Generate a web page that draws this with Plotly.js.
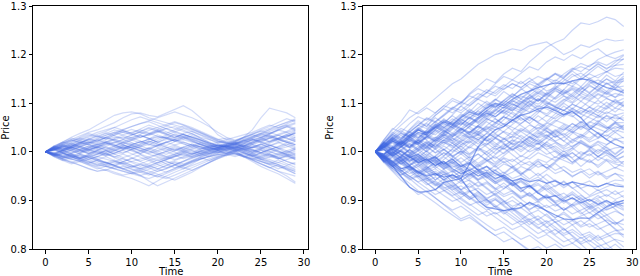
<!DOCTYPE html>
<html><head><meta charset="utf-8">
<script src="https://cdn.plot.ly/plotly-3.0.1.min.js"></script>
<style>html,body{margin:0;padding:0;background:#fff}#chart{width:640px;height:276px}</style>
</head><body><div id="chart"></div>
<script>
// Time steps
const time = [0,1,2,3,4,5,6,7,8,9,10,11,12,13,14,15,16,17,18,19,20,21,22,23,24,25,26,27,28,29];
const yTicks = [0.8,0.9,1.0,1.1,1.2,1.3];
const xTicks = [0,5,10,15,20,25,30];
const xTitle = 'Time';
const yTitle = 'Price';

// Left panel: price paths, deviation from 1.0 in thousandths
const leftPaths = [
[0,10,18,25,32,40,45,52,60,70,78,80,75,72,80,88,95,85,70,55,35,25,20,18,25,30,35,28,22,15],
[0,12,20,30,38,45,55,65,75,80,82,78,70,65,60,55,50,45,38,30,22,18,15,12,8,10,5,0,-5,-8],
[0,-8,-15,-20,-28,-35,-40,-38,-45,-50,-55,-62,-70,-60,-50,-42,-35,-25,-15,-10,-5,0,-5,-10,-15,-20,-25,-30,-35,-40],
[0,5,-3,-10,-15,-22,-28,-30,-35,-40,-45,-42,-48,-40,-35,-28,-20,-10,-5,0,5,8,2,-10,-20,-30,-38,-45,-55,-65],
[0,6,12,8,15,20,18,25,30,28,35,40,38,32,28,22,25,20,15,12,10,15,20,30,45,70,90,85,80,70],
[0,-5,-12,-8,-3,5,10,6,12,18,15,20,25,30,28,35,30,25,18,12,15,10,14,20,25,22,28,35,40,45],
[0,10,5,12,18,15,8,3,-5,-2,5,10,15,12,20,25,30,22,15,10,5,8,12,18,15,10,18,25,20,15],
[0,-10,-18,-25,-20,-28,-35,-30,-25,-20,-28,-35,-30,-22,-15,-10,-5,-12,-8,-3,2,5,0,-8,-15,-10,-5,-12,-20,-25],
[0,8,14,20,28,35,30,38,45,40,35,42,50,45,38,30,35,28,20,15,20,25,30,35,40,48,55,50,58,65],
[0,-6,0,8,12,5,-2,-8,-3,5,10,2,-5,-10,-15,-8,-2,5,0,-5,0,4,8,12,5,-2,-8,-15,-10,-5],
[0,12,20,15,25,32,40,45,50,44,38,30,35,42,48,52,45,38,30,25,20,18,22,28,35,30,38,45,40,32],
[0,-4,-10,-16,-12,-5,2,-4,-10,-15,-20,-25,-30,-35,-28,-20,-25,-18,-10,-5,0,-3,2,8,2,-5,-12,-8,-2,5],
[0,5,10,18,12,5,10,15,20,25,30,35,28,20,25,30,38,42,35,28,22,18,15,20,28,35,30,25,32,38],
[0,-8,-5,3,-5,-12,-18,-22,-28,-35,-30,-38,-45,-52,-45,-38,-30,-22,-15,-8,-2,2,6,0,-8,-15,-22,-30,-38,-45],
[0,10,18,25,20,15,22,30,38,45,52,58,62,55,48,40,35,30,25,18,12,10,15,22,30,38,45,50,55,48],
[0,-3,4,10,5,0,-6,-2,5,12,18,12,6,12,18,25,20,14,10,5,8,12,8,4,10,16,22,28,34,25],
[0,6,-2,-8,-14,-20,-25,-30,-35,-40,-45,-50,-55,-48,-42,-35,-28,-20,-15,-10,-5,-8,-3,-10,-18,-25,-32,-40,-45,-50],
[0,8,16,22,28,22,15,20,28,35,40,45,38,45,52,60,55,48,40,32,25,28,22,30,38,45,52,60,68,62],
[0,-5,2,8,3,-3,-10,-5,2,8,2,-5,-12,-18,-12,-5,0,6,12,8,3,6,10,5,-2,-8,-2,5,10,15],
[0,7,14,10,4,10,16,22,15,8,14,20,26,32,28,22,16,12,6,10,14,18,12,6,0,6,12,18,24,30],
[0,-7,-14,-10,-18,-25,-30,-25,-20,-28,-35,-40,-45,-50,-55,-48,-40,-32,-25,-18,-10,-5,0,5,10,5,0,-5,-10,-15],
[0,9,15,22,30,38,32,26,34,40,46,40,34,40,48,42,36,30,24,18,12,16,20,26,32,38,32,26,20,14],
[0,-4,-9,-14,-20,-26,-32,-38,-30,-22,-28,-34,-40,-46,-52,-58,-50,-42,-32,-22,-12,-6,-2,-8,-14,-20,-26,-22,-16,-10],
[0,5,12,18,24,30,36,42,50,58,66,72,66,60,54,48,42,36,28,20,14,10,6,12,18,24,30,36,42,50],
[0,3,-2,4,10,16,10,4,-2,4,10,16,22,16,10,4,10,16,10,4,8,12,16,22,28,34,40,34,28,22],
[0,-6,-2,-8,-14,-10,-16,-22,-28,-34,-40,-34,-28,-22,-16,-10,-4,2,-4,-10,-6,-2,4,10,4,-2,-8,-14,-8,-2],
[0,10,20,28,24,18,26,34,40,34,28,36,44,50,56,62,56,50,42,34,26,20,16,10,16,22,28,34,28,22],
[0,-8,-16,-22,-28,-34,-40,-36,-42,-48,-44,-38,-32,-26,-20,-26,-32,-38,-30,-22,-14,-8,-2,-8,-16,-24,-32,-40,-50,-62],
[0,6,10,14,8,2,8,14,20,14,8,2,8,14,20,26,32,26,20,14,8,12,16,10,4,-2,4,10,16,8],
[0,-2,-8,-4,2,8,14,20,26,20,14,8,2,-4,-10,-16,-10,-4,2,8,14,10,6,2,-4,-10,-16,-22,-28,-22],
[0,8,4,10,16,22,28,34,40,46,52,58,64,70,76,82,76,70,62,52,40,30,24,30,36,42,48,54,60,66],
[0,-10,-18,-12,-6,-12,-18,-24,-30,-36,-42,-48,-60,-70,-62,-54,-46,-38,-30,-22,-14,-6,2,-4,-10,-16,-10,-4,2,8],
[0,4,8,2,-4,-10,-4,2,8,14,8,2,-4,2,8,14,20,14,8,2,6,10,14,8,2,8,14,8,2,-4],
[0,12,6,14,22,18,24,30,24,18,24,30,36,42,36,30,36,30,24,18,12,16,20,14,8,14,20,26,32,38],
[0,-5,-10,-15,-20,-15,-10,-15,-20,-25,-20,-15,-10,-5,0,5,0,-5,0,5,10,14,18,24,30,36,42,48,54,60],
[0,6,2,-4,-10,-16,-22,-28,-34,-30,-36,-42,-36,-30,-24,-18,-12,-6,0,6,12,8,4,-2,-8,-14,-20,-26,-32,-38],
[0,7,3,12,20,14,9,17,25,31,24,18,27,35,29,22,30,38,28,19,12,15,9,17,24,30,21,28,36,29],
[0,-9,-4,-13,-7,-16,-10,-3,-12,-20,-14,-6,-15,-23,-17,-9,-2,-10,-4,3,-2,6,11,4,-5,3,-6,-14,-7,-16],
[0,4,13,8,17,26,20,29,23,15,24,33,27,19,28,37,31,24,15,9,5,13,8,16,25,19,28,21,30,41],
[0,-3,-11,-5,-14,-8,1,-6,3,11,5,-3,6,-2,-10,-4,5,-3,6,12,7,3,9,2,-6,-13,-5,-12,-20,-27],
[0,11,6,15,9,2,10,18,12,21,29,22,14,23,31,25,17,9,16,8,4,10,16,24,17,26,34,27,19,11],
[0,-6,-14,-9,-17,-24,-18,-27,-21,-13,-22,-30,-24,-16,-25,-33,-27,-19,-11,-4,3,-3,5,-2,-9,-2,6,-1,-8,-15],
[0,5,-2,6,-1,8,15,9,2,10,4,-4,5,13,20,14,6,13,5,11,17,12,6,13,21,29,38,46,52,44],
[0,-4,3,-5,-12,-6,-14,-22,-28,-21,-13,-20,-27,-35,-42,-34,-26,-19,-12,-18,-11,-5,-10,-4,-12,-19,-27,-35,-29,-36],
[0,8,16,11,19,27,22,30,37,44,38,47,55,49,41,34,26,33,24,16,10,14,19,12,20,29,36,44,51,58],
[0,-7,-2,-10,-4,3,-4,4,11,5,12,6,-2,7,1,-6,2,9,3,-3,2,-4,1,7,-1,6,13,7,-2,6],
[0,3,9,2,10,4,11,19,13,6,14,22,16,9,3,11,4,12,19,13,8,12,6,1,9,15,8,2,-6,-13],
[0,-8,-15,-22,-16,-23,-17,-10,-18,-25,-32,-26,-33,-40,-34,-27,-35,-28,-21,-14,-8,-3,-7,-1,-9,-16,-24,-17,-25,-32],
[0,9,4,12,19,26,33,27,35,42,36,29,37,44,38,46,53,47,39,31,24,19,23,29,36,43,37,45,52,46],
[0,-5,2,9,3,-4,3,10,4,-3,5,12,19,13,6,-1,-8,-2,-9,-3,2,7,2,8,14,21,14,7,14,22],
[0,6,0,-7,-14,-8,-16,-23,-17,-24,-31,-25,-18,-26,-33,-27,-20,-13,-7,-1,5,1,-4,-11,-4,-12,-19,-26,-33,-41],
[0,10,17,24,18,25,32,39,33,26,34,41,48,42,35,28,36,29,22,15,9,13,17,11,18,25,32,25,33,39],
[0,-2,-9,-3,4,-3,4,-4,-11,-5,-12,-19,-13,-6,-13,-7,-14,-8,-2,3,8,4,9,15,9,16,9,2,-5,2],
[0,5,11,5,12,19,13,20,14,7,14,8,1,-6,1,8,2,-5,2,8,13,9,4,-2,-9,-3,4,11,19,27],
[0,-9,-3,-11,-18,-12,-5,2,-5,-12,-6,1,8,2,-5,2,9,16,10,4,8,13,18,12,19,27,20,28,35,43],
[0,4,10,17,11,18,25,18,11,19,27,34,27,20,13,21,28,22,15,8,3,7,11,5,-2,4,-3,-11,-4,-12],
[0,-5,-12,-6,-13,-20,-27,-21,-28,-35,-42,-49,-43,-36,-29,-22,-29,-21,-14,-7,-2,3,-2,-9,-17,-25,-33,-27,-36,-45],
[0,8,2,9,16,10,3,11,18,25,19,12,20,27,34,41,48,42,34,26,18,22,17,24,31,38,46,54,61,68],
[0,-3,4,-2,5,12,6,-1,7,14,8,15,22,16,9,2,9,3,-4,2,7,12,16,21,27,20,13,20,12,5],
[0,7,13,6,-1,6,-2,-9,-3,3,-4,-11,-18,-12,-19,-26,-19,-12,-6,0,4,8,13,7,14,8,1,-6,1,-7]
];

// Right panel: price paths, deviation from 1.0 in thousandths
const rightPaths = [
[0,15,30,22,45,60,52,75,90,105,98,120,135,150,142,160,172,165,185,200,215,225,232,250,265,262,268,277,272,258],
[0,20,38,55,70,82,95,110,125,140,150,165,180,190,200,205,212,208,218,222,226,214,200,208,220,215,225,232,228,230],
[0,25,45,62,86,78,90,80,95,110,102,118,130,122,140,155,148,162,175,168,185,195,188,200,192,205,212,198,205,210],
[0,10,25,18,35,48,40,55,65,58,72,85,78,95,108,100,115,128,140,132,148,160,152,170,182,175,190,198,192,200],
[0,-12,5,18,10,28,42,35,50,62,75,68,85,98,90,105,118,110,125,140,152,145,160,172,165,178,185,178,188,190],
[0,18,32,25,40,55,70,62,78,92,85,100,115,128,120,135,148,140,152,138,150,162,155,168,175,168,180,172,178,180],
[0,8,-5,10,22,15,30,45,38,52,66,58,72,85,98,90,105,95,110,122,115,130,142,135,150,160,152,165,172,170],
[0,15,28,40,32,48,60,75,88,80,95,108,120,112,125,138,130,145,132,120,135,148,140,155,162,150,158,165,155,160],
[0,-10,-22,-8,5,18,10,25,38,30,45,58,50,65,78,92,85,100,112,105,118,130,122,135,128,140,148,140,145,150],
[0,20,12,28,42,55,48,62,75,90,102,95,110,122,115,130,140,132,145,155,148,160,150,140,152,145,138,150,142,145],
[0,12,25,38,30,18,32,45,58,50,65,78,70,85,98,90,102,115,108,120,112,125,118,130,122,135,128,140,132,135],
[0,-15,-5,10,25,18,32,20,35,48,60,52,68,80,72,85,98,92,105,98,110,102,115,108,120,112,125,118,130,125],
[0,10,22,15,30,45,38,52,65,58,45,58,70,85,78,92,105,98,112,125,118,108,120,132,125,115,128,120,112,120],
[0,18,35,28,42,30,45,58,50,65,78,70,58,72,85,78,92,85,98,110,102,95,108,100,112,105,118,110,102,110],
[0,-8,-20,-10,5,-5,10,25,18,32,45,38,52,45,58,72,65,78,70,85,78,92,85,98,90,105,98,110,102,100],
[0,15,5,20,35,28,42,55,48,62,55,70,62,75,88,80,95,108,100,88,100,92,85,98,90,82,95,88,100,95],
[0,10,25,18,8,22,35,28,42,35,48,40,55,68,60,72,65,78,90,82,95,88,75,88,80,92,85,78,90,85],
[0,-10,0,-12,-5,8,20,12,25,18,30,42,35,48,60,52,65,58,70,62,75,68,80,72,85,78,70,82,75,80],
[0,20,35,48,40,55,68,60,75,88,80,95,108,100,92,105,98,90,82,95,88,80,72,85,78,70,62,75,68,70],
[0,8,18,10,22,15,5,18,30,22,35,28,40,52,45,58,50,42,55,48,60,52,45,58,50,62,55,48,60,60],
[0,-18,-30,-22,-35,-25,-12,-20,-8,5,-5,10,2,15,28,20,32,25,38,30,42,35,48,40,52,45,58,50,48,55],
[0,12,2,15,8,20,32,25,38,50,62,55,68,80,72,85,78,65,72,60,52,65,58,50,62,55,48,40,52,45],
[0,-5,8,20,12,25,18,5,15,28,20,32,25,38,30,42,35,48,40,28,35,22,30,42,35,28,40,32,45,40],
[0,15,28,20,32,45,38,50,42,55,48,35,42,30,38,25,32,45,38,50,42,30,38,25,32,20,28,35,25,30],
[0,-10,-22,-15,-28,-20,-8,-15,-2,-10,2,-5,8,0,12,5,18,10,22,15,28,20,12,25,18,10,22,15,25,20],
[0,10,20,12,25,18,30,22,35,28,15,22,10,18,5,12,25,18,30,22,10,18,5,12,20,8,15,2,8,10],
[0,-12,-5,-18,-10,-22,-15,-28,-20,-32,-25,-38,-30,-18,-25,-12,-20,-8,-15,-2,-10,-18,-5,-12,0,-8,5,-2,-10,0],
[0,8,-5,5,-8,2,15,8,20,12,25,18,30,22,35,28,15,22,10,18,5,12,0,8,-5,2,-10,-2,-15,-10],
[0,-15,-28,-40,-32,-45,-38,-50,-42,-55,-48,-35,-42,-30,-38,-25,-32,-20,-28,-15,-22,-10,-18,-25,-12,-20,-28,-15,-22,-20],
[0,12,25,38,30,45,38,52,45,32,40,28,35,22,30,18,5,12,0,8,-5,2,-10,-2,-15,-22,-10,-18,-25,-30],
[0,-8,5,-5,-18,-10,-22,-15,-28,-20,-32,-25,-38,-45,-38,-50,-42,-30,-38,-25,-32,-45,-38,-50,-42,-35,-48,-40,-32,-40],
[0,18,10,22,15,2,10,-2,5,-8,0,-12,-5,-18,-10,-22,-15,-28,-20,-32,-25,-38,-30,-42,-35,-48,-40,-52,-45,-50],
[0,-20,-12,-25,-38,-30,-42,-35,-48,-40,-52,-45,-58,-50,-62,-55,-68,-60,-72,-65,-78,-70,-62,-75,-68,-60,-72,-65,-58,-60],
[0,10,0,-12,-5,-18,-10,-22,-35,-28,-40,-32,-45,-38,-50,-42,-55,-48,-60,-52,-65,-58,-70,-62,-75,-68,-80,-72,-65,-70],
[0,-10,-25,-18,-30,-42,-35,-48,-40,-52,-65,-58,-70,-62,-75,-88,-80,-92,-85,-98,-90,-102,-95,-88,-100,-92,-85,-78,-88,-80],
[0,12,5,-8,-20,-12,-25,-18,-30,-42,-35,-48,-40,-52,-65,-58,-70,-62,-75,-68,-80,-92,-85,-98,-90,-102,-95,-88,-98,-90],
[0,-18,-30,-42,-55,-48,-60,-52,-65,-78,-70,-82,-75,-88,-80,-92,-85,-98,-110,-102,-115,-108,-120,-112,-105,-118,-110,-102,-108,-100],
[0,5,-8,-20,-12,-25,-38,-30,-42,-55,-48,-60,-72,-65,-78,-70,-82,-95,-88,-100,-92,-105,-98,-110,-102,-115,-108,-120,-112,-110],
[0,-12,-25,-38,-50,-62,-55,-68,-80,-72,-85,-98,-90,-102,-95,-108,-100,-112,-105,-118,-110,-122,-115,-128,-120,-112,-125,-118,-112,-120],
[0,-5,-18,-10,-22,-35,-48,-40,-52,-65,-78,-70,-82,-95,-88,-100,-112,-105,-118,-110,-122,-135,-128,-140,-132,-125,-138,-130,-122,-130],
[0,-15,-28,-20,-32,-45,-58,-70,-62,-75,-88,-80,-92,-105,-98,-110,-122,-115,-128,-120,-132,-145,-138,-150,-142,-155,-148,-140,-148,-140],
[0,-8,-20,-32,-45,-38,-50,-62,-75,-68,-80,-92,-105,-98,-110,-122,-115,-128,-140,-132,-145,-138,-150,-142,-155,-148,-160,-152,-145,-150],
[0,-20,-35,-48,-40,-55,-68,-60,-72,-85,-98,-110,-102,-115,-128,-120,-132,-145,-138,-150,-142,-155,-168,-160,-172,-165,-178,-170,-162,-160],
[0,-10,-22,-35,-28,-40,-52,-65,-78,-90,-82,-95,-108,-120,-112,-125,-138,-150,-142,-155,-168,-160,-172,-165,-178,-170,-182,-175,-168,-170],
[0,-18,-30,-45,-58,-50,-65,-78,-90,-102,-95,-108,-120,-132,-125,-138,-150,-142,-155,-168,-160,-172,-185,-178,-190,-182,-195,-188,-180,-185],
[0,-12,-25,-38,-50,-62,-75,-88,-80,-92,-105,-118,-130,-122,-135,-148,-160,-152,-165,-178,-170,-182,-195,-188,-200,-212,-205,-198,-210,-200],
[0,-15,-30,-42,-55,-70,-82,-95,-108,-120,-112,-125,-138,-150,-162,-155,-168,-180,-172,-185,-198,-190,-202,-215,-208,-220,-212,-225,-218,-215],
[0,-20,-38,-52,-65,-80,-92,-105,-118,-130,-142,-135,-148,-160,-172,-165,-178,-190,-202,-195,-208,-220,-212,-225,-238,-230,-242,-235,-228,-230],
[0,-22,-40,-58,-72,-88,-80,-95,-110,-125,-138,-130,-145,-160,-172,-185,-178,-192,-205,-218,-210,-225,-238,-230,-245,-258,-250,-262,-255,-250],
[0,25,48,40,58,72,65,80,95,88,102,115,108,122,135,128,140,132,145,138,125,132,120,128,115,108,120,112,120,115],
[0,-10,-2,-15,-8,5,18,30,22,35,48,40,55,68,60,75,88,80,95,108,100,92,85,78,90,82,75,68,72,65],
[0,18,6,25,40,28,45,62,50,38,55,72,60,78,95,82,70,88,105,92,110,128,115,102,120,138,125,142,130,148],
[0,-14,-30,-18,-35,-52,-40,-58,-45,-62,-78,-65,-82,-98,-85,-102,-118,-105,-122,-140,-128,-145,-162,-150,-168,-185,-172,-190,-205,-220],
[0,12,28,15,32,20,8,24,40,55,42,30,46,62,50,66,82,70,58,74,62,78,94,82,70,86,74,90,106,92],
[0,-20,-8,-25,-12,2,-14,-30,-16,-2,12,-4,10,-6,-22,-8,6,-10,4,18,4,-12,2,-14,-30,-16,-32,-18,-34,-20],
[0,15,30,18,34,50,38,52,68,56,72,88,76,92,108,96,84,100,116,104,120,136,124,112,128,144,132,120,136,152],
[0,-8,-24,-12,-28,-16,-32,-48,-36,-52,-40,-56,-44,-60,-76,-64,-80,-96,-84,-100,-88,-104,-120,-108,-124,-140,-128,-144,-160,-176],
[0,10,-4,12,26,14,0,16,30,18,4,20,36,24,10,26,42,30,16,32,48,36,22,38,54,42,28,44,60,48],
[0,-16,-2,14,0,-14,2,-12,-26,-12,2,-14,-28,-14,-30,-44,-30,-46,-32,-18,-34,-20,-6,-22,-8,6,-10,4,-12,2],
[0,22,40,28,46,64,52,70,58,76,94,82,100,88,106,124,112,130,118,104,122,110,128,146,134,152,140,158,146,164],
[0,-12,-26,-40,-28,-42,-56,-44,-58,-72,-60,-46,-60,-74,-88,-76,-62,-76,-90,-104,-92,-106,-120,-108,-94,-108,-122,-136,-150,-138],
[0,8,20,34,22,36,24,10,24,38,26,40,54,42,28,42,56,70,58,44,58,72,86,74,60,74,88,102,90,104],
[0,-6,8,-6,-20,-8,-22,-10,4,-10,-24,-38,-26,-40,-28,-14,-28,-42,-56,-44,-58,-72,-60,-74,-88,-102,-90,-104,-118,-132],
[0,16,4,18,32,46,34,48,62,50,38,52,66,80,68,56,70,84,98,86,74,88,102,116,104,92,106,94,82,96],
[0,-18,-34,-22,-38,-26,-42,-58,-46,-62,-78,-94,-82,-98,-114,-102,-118,-134,-150,-138,-154,-170,-158,-174,-190,-206,-194,-210,-226,-242],
[0,6,-8,4,18,6,-8,6,20,8,22,36,24,38,52,40,28,42,30,16,30,44,32,18,32,46,60,48,62,76],
[0,-10,2,-12,-26,-14,-28,-16,-30,-18,-4,-18,-32,-20,-6,8,-6,-20,-8,6,20,8,-6,8,22,10,-4,10,-4,10],
[0,20,36,24,10,24,38,52,40,54,68,56,70,84,72,86,100,88,102,116,104,92,106,120,134,122,136,150,138,126],
[0,-14,0,-14,-28,-42,-30,-44,-58,-46,-60,-48,-34,-48,-62,-76,-64,-78,-92,-80,-66,-80,-94,-82,-96,-110,-98,-112,-100,-114],
[0,12,-2,10,-4,8,22,10,24,12,-2,12,26,14,28,16,2,16,30,44,32,46,34,48,62,50,64,52,40,54],
[0,-22,-10,-26,-14,-30,-18,-34,-22,-38,-54,-42,-58,-46,-62,-50,-66,-82,-70,-86,-74,-90,-106,-94,-110,-126,-114,-130,-146,-160],
[0,14,28,16,30,44,58,46,60,74,62,76,90,104,92,106,120,108,122,136,150,138,152,166,154,168,182,170,184,198],
[0,-4,10,-4,-18,-6,-20,-8,6,-8,-22,-10,-24,-12,2,16,4,18,32,20,34,22,8,22,36,24,38,26,40,28],
[0,10,24,12,-2,12,0,-14,-2,-16,-30,-18,-4,-18,-32,-20,-34,-48,-36,-50,-38,-24,-38,-52,-40,-54,-42,-56,-44,-58],
[0,-16,-30,-18,-32,-46,-34,-20,-34,-22,-36,-24,-38,-52,-66,-54,-68,-82,-70,-84,-98,-112,-100,-114,-128,-116,-130,-144,-158,-172],
[0,18,4,20,8,24,12,28,44,32,48,36,52,40,56,72,60,76,64,80,96,84,100,88,104,120,108,124,112,128],
[0,-8,-22,-10,4,-10,-24,-12,-26,-40,-28,-42,-56,-44,-58,-46,-32,-46,-34,-20,-34,-22,-8,-22,-10,4,-10,2,-12,-26],
[0,14,2,16,30,18,6,20,34,22,10,24,38,26,14,28,16,4,18,6,20,34,22,10,24,12,0,14,28,16],
[0,-12,-26,-14,-28,-16,-30,-44,-58,-46,-60,-74,-62,-76,-90,-104,-92,-106,-120,-108,-122,-136,-124,-138,-152,-140,-154,-168,-182,-196],
[0,20,8,22,36,24,40,56,44,60,48,64,80,68,84,100,88,104,92,108,96,112,128,116,132,120,136,124,140,156],
[0,-6,8,22,10,24,12,-2,12,0,14,28,16,30,18,6,20,34,22,36,50,38,52,40,28,42,30,44,58,46],
[0,10,-4,-18,-6,-20,-34,-22,-36,-24,-38,-52,-40,-54,-42,-56,-70,-58,-72,-60,-46,-60,-74,-62,-76,-90,-78,-92,-80,-94],
[0,-18,-6,-20,-8,-22,-36,-24,-10,-24,-12,-26,-14,0,-14,-2,12,0,14,2,16,4,-10,4,18,6,20,8,-6,8],
[0,16,30,44,32,46,34,22,36,24,38,52,40,54,68,56,44,58,72,60,48,62,76,90,78,92,80,94,108,96],
[0,-10,-24,-38,-52,-40,-54,-68,-56,-70,-84,-98,-86,-100,-114,-128,-116,-130,-144,-158,-146,-160,-174,-188,-176,-190,-204,-218,-232,-246],
[0,8,22,10,24,38,26,40,54,68,56,70,84,72,86,100,114,102,116,130,118,132,146,160,148,162,176,164,178,192],
[0,-14,-2,12,-2,-16,-4,-18,-32,-20,-34,-48,-36,-50,-38,-52,-66,-54,-68,-82,-70,-84,-98,-86,-100,-114,-102,-116,-104,-118],
[0,12,26,14,28,16,30,44,32,46,60,48,36,50,38,52,66,54,42,56,44,30,44,58,46,60,74,62,76,64],
[0,-20,-34,-48,-36,-50,-64,-78,-66,-80,-94,-82,-96,-110,-98,-112,-126,-140,-128,-142,-156,-144,-158,-172,-186,-174,-188,-202,-190,-204],
[0,4,-10,2,16,4,18,6,-8,6,20,8,22,10,-4,10,24,12,26,40,28,42,56,44,58,46,60,74,62,50],
[0,-8,6,-8,4,-10,2,16,4,18,6,-8,6,-6,8,-4,10,24,12,26,14,0,-14,-2,-16,-4,-18,-6,-20,-8]
];

// Right panel: the few more visible paths
const rightDarkPaths = [
[0,-12,-29,-52,-73,-83,-82,-78,-63,-59,-55,-80,-100,-114,-118,-121,-118,-115,-104,-113,-122,-130,-138,-140,-136,-137,-125,-113,-105,-100],
[0,-8,-20,-35,-30,-42,-50,-45,-52,-48,-55,-25,10,30,45,52,65,75,80,88,92,85,76,83,70,50,38,25,15,8],
[0,10,22,15,28,40,35,50,62,55,70,82,75,90,100,95,108,118,125,132,137,142,140,146,150,148,140,132,128,122],
[0,5,-8,2,-10,-22,-15,-28,-20,-35,-45,-38,-50,-42,-55,-48,-60,-55,-62,-58,-65,-60,-68,-62,-66,-70,-72,-65,-70,-72],
[0,-5,10,0,-12,-5,-18,-10,-25,-15,-30,-22,-38,-30,-45,-52,-60,-75,-70,-85,-95,-90,-102,-95,-105,-98,-108,-100,-110,-105]
];

const toPrice = p => p.map(v => 1 + v / 1000);
const traces = [];
function add(paths, ax, ay, color, w) {
  paths.forEach(p => traces.push({
    x: time, y: toPrice(p), xaxis: ax, yaxis: ay, type: 'scatter', mode: 'lines',
    line: {color: color, width: w}, hoverinfo: 'skip', showlegend: false
  }));
}
add(leftPaths, 'x', 'y', 'rgba(65,105,225,0.24)', 1.2);
add(rightPaths, 'x2', 'y2', 'rgba(65,105,225,0.28)', 1.2);
add(rightDarkPaths, 'x2', 'y2', 'rgba(65,105,225,0.62)', 1.3);

const font = {family: 'DejaVu Sans', size: 10, color: '#000'};
function xa(domain, anchor) {
  return {domain: domain, anchor: anchor, range: [-1.45, 30.45], tickvals: xTicks,
    ticks: 'outside', ticklen: 3.5, tickcolor: '#000', showline: true, mirror: true,
    linecolor: '#000', linewidth: 1, showgrid: false, zeroline: false, tickfont: font};
}
function ya(anchor) {
  return {domain: [0, 1], anchor: anchor, range: [0.8, 1.3], tickvals: yTicks, tickformat: '.1f',
    ticks: 'outside', ticklen: 3.5, tickcolor: '#000', showline: true, mirror: true,
    linecolor: '#000', linewidth: 1, showgrid: false, zeroline: false, tickfont: font,
    ticklabeloverflow: 'allow', title: {text: yTitle, font: font}};
}
const xTitleAnn = (cx) => ({text: xTitle, xref: 'paper', yref: 'paper', x: cx, y: 0,
  xanchor: 'center', yanchor: 'middle', yshift: -22, showarrow: false, font: font});
const layout = {
  width: 640, height: 276, margin: {l: 0, r: 0, t: 6, b: 27},
  paper_bgcolor: '#fff', plot_bgcolor: '#fff', showlegend: false,
  xaxis: xa([0.0516, 0.481], 'y'), yaxis: ya('x'),
  xaxis2: xa([0.567, 0.994], 'y2'), yaxis2: ya('x2'),
  annotations: [xTitleAnn((0.0516 + 0.481) / 2), xTitleAnn((0.567 + 0.994) / 2)]
};
Plotly.newPlot('chart', traces, layout, {staticPlot: true, displayModeBar: false});
</script></body></html>
